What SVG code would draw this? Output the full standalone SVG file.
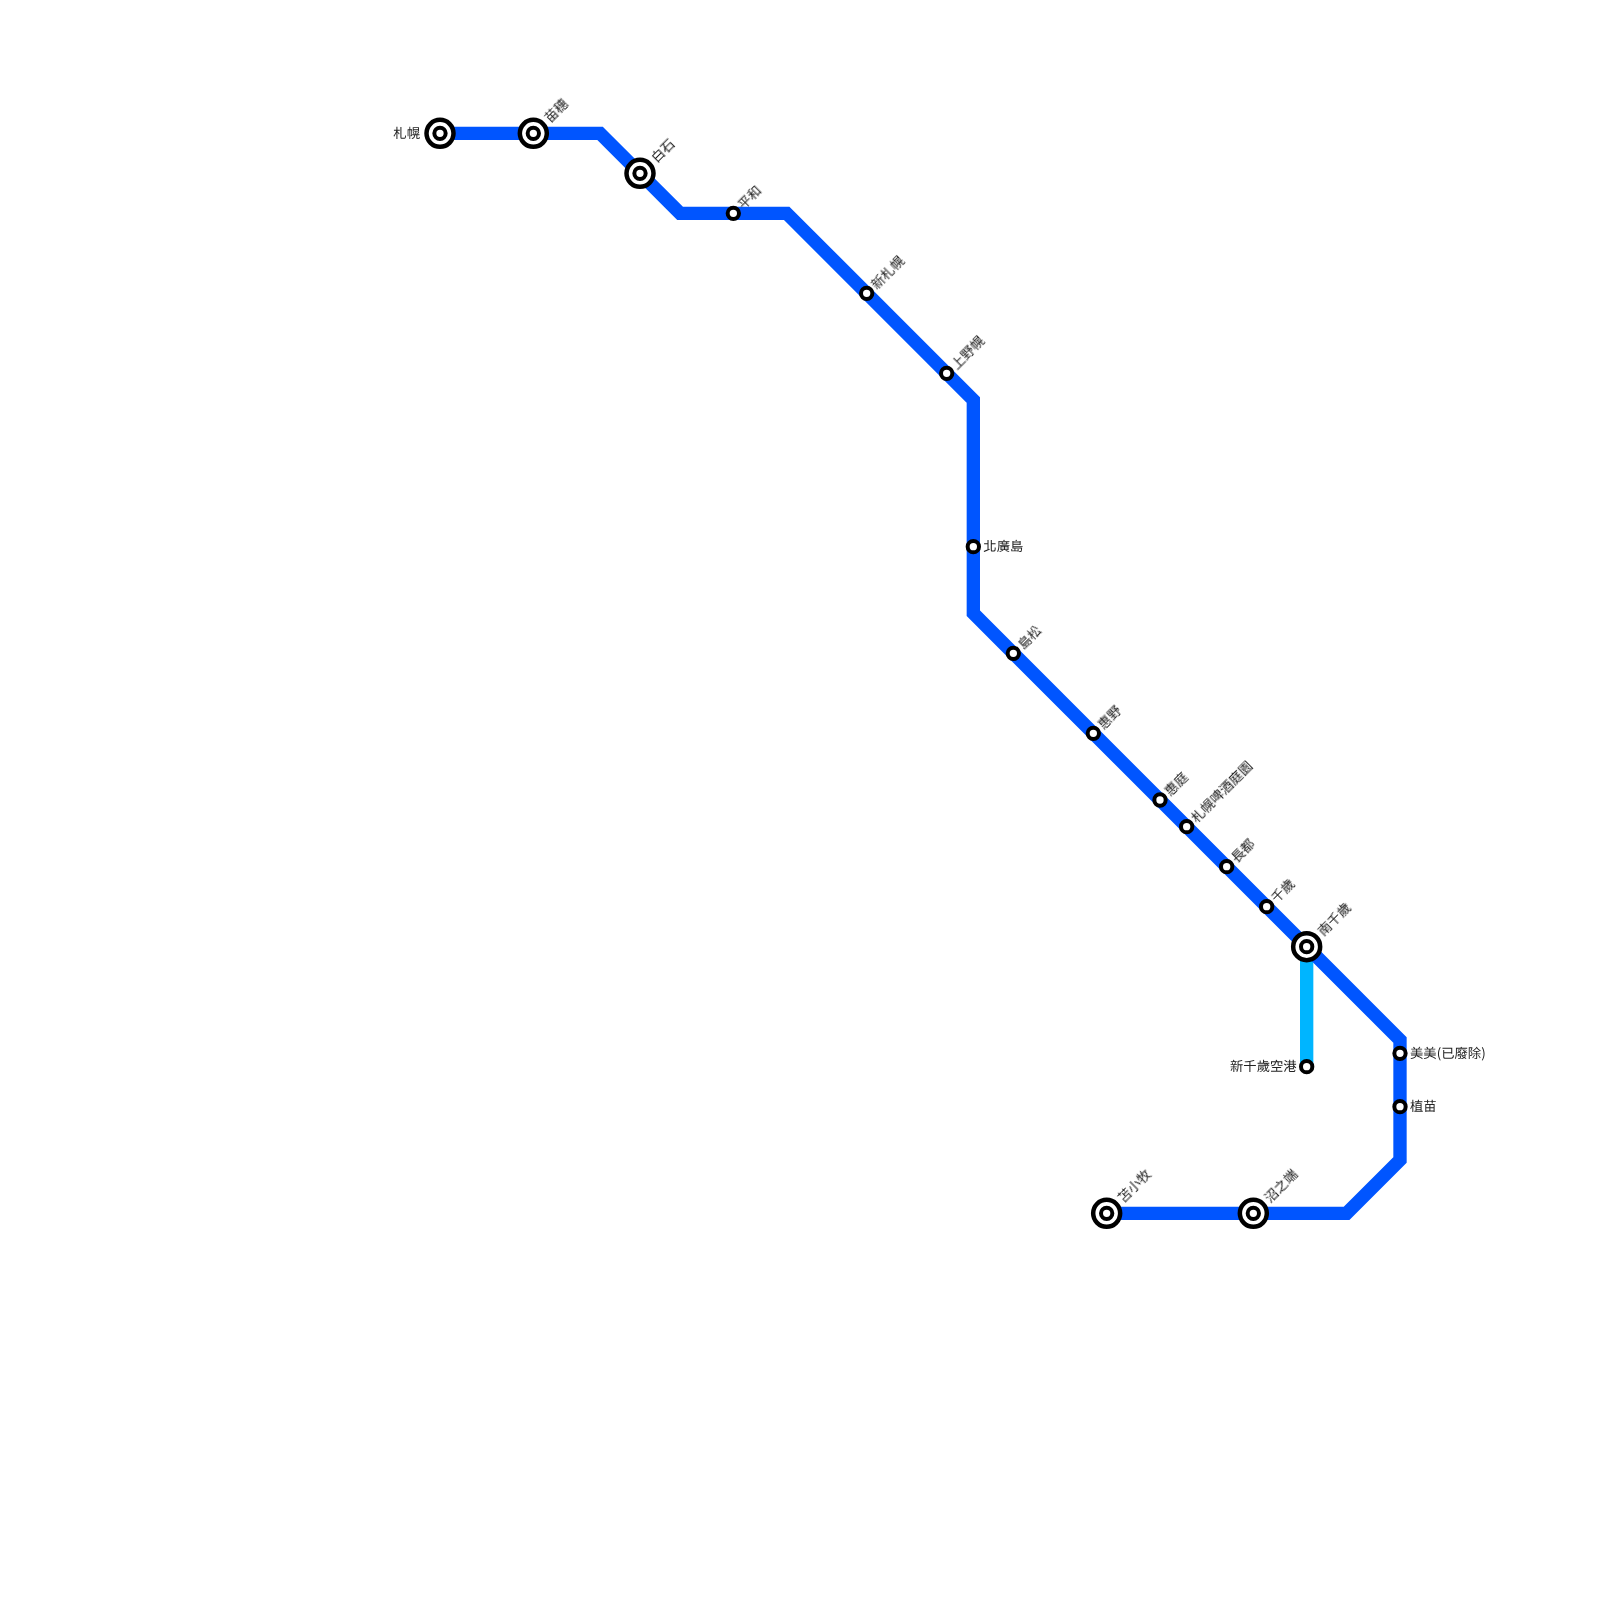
<svg xmlns="http://www.w3.org/2000/svg" width="1600" height="1600" viewBox="0 0 1600 1600">
<style>
.l{fill:none;stroke-width:13.33;stroke-linejoin:miter}
.o{fill:#fff;stroke:#000;stroke-width:4}
.b{fill:#fff;stroke:#000;stroke-width:4.5}
text{font-family:"Noto Sans CJK TC","Noto Sans CJK SC","Noto Sans",sans-serif;font-size:13.33px;fill:#222;dominant-baseline:middle;text-rendering:geometricPrecision;will-change:opacity}
.e{text-anchor:end}
</style>
<g id="connectors">
<path class="l" stroke="#00b5ff" d="M1306.67 946.67V1066.67"/>
<path class="l" stroke="#0055ff" d="M440 133.33H600L680 213.33H786.67L973.33 400V613.33L1400 1040V1160L1346.67 1213.33H1106.67"/>
</g>
<g id="s-sapporo"><circle class="b" cx="440" cy="133.33" r="13.5"/><circle class="o" cx="440" cy="133.33" r="5.67"/><text class="e" x="420" y="134">札幌</text></g>
<g id="s-naeho"><circle class="b" cx="533.33" cy="133.33" r="13.5"/><circle class="o" cx="533.33" cy="133.33" r="5.67"/><text transform="translate(547.4 120.7) rotate(-45)">苗穗</text></g>
<g id="s-shiroishi"><circle class="b" cx="640" cy="173.33" r="13.5"/><circle class="o" cx="640" cy="173.33" r="5.67"/><text transform="translate(654 160.7) rotate(-45)">白石</text></g>
<g id="s-heiwa"><circle class="o" cx="733.33" cy="213.33" r="5.67"/><text transform="translate(740.7 207.4) rotate(-45)">平和</text></g>
<g id="s-shinsapporo"><circle class="o" cx="866.67" cy="293.33" r="5.67"/><text transform="translate(874 287.4) rotate(-45)">新札幌</text></g>
<g id="s-kaminopporo"><circle class="o" cx="946.67" cy="373.33" r="5.67"/><text transform="translate(954 367.4) rotate(-45)">上野幌</text></g>
<g id="s-kitahiroshima"><circle class="o" cx="973.33" cy="546.67" r="5.67"/><text x="983.33" y="547.4">北廣島</text></g>
<g id="s-shimamatsu"><circle class="o" cx="1013.33" cy="653.33" r="5.67"/><text transform="translate(1020.7 647.4) rotate(-45)">島松</text></g>
<g id="s-eniwa-kita"><circle class="o" cx="1093.33" cy="733.33" r="5.67"/><text transform="translate(1100.7 727.4) rotate(-45)">惠野</text></g>
<g id="s-eniwa"><circle class="o" cx="1160" cy="800" r="5.67"/><text transform="translate(1167.4 794) rotate(-45)">惠庭</text></g>
<g id="s-beerteien"><circle class="o" cx="1186.67" cy="826.67" r="5.67"/><text transform="translate(1194 820.7) rotate(-45)">札幌啤酒庭園</text></g>
<g id="s-osatsu"><circle class="o" cx="1226.67" cy="866.67" r="5.67"/><text transform="translate(1234 860.7) rotate(-45)">長都</text></g>
<g id="s-chitose"><circle class="o" cx="1266.67" cy="906.67" r="5.67"/><text transform="translate(1274 900.7) rotate(-45)">千歲</text></g>
<g id="s-minamichitose"><circle class="b" cx="1306.67" cy="946.67" r="13.5"/><circle class="o" cx="1306.67" cy="946.67" r="5.67"/><text transform="translate(1320.7 934) rotate(-45)">南千歲</text></g>
<g id="s-newchitose"><circle class="o" cx="1306.67" cy="1066.67" r="5.67"/><text class="e" x="1296.67" y="1067.4">新千歲空港</text></g>
<g id="s-bibi"><circle class="o" cx="1400" cy="1053.33" r="5.67"/><text x="1410" y="1054">美美(已廢除)</text></g>
<g id="s-uenae"><circle class="o" cx="1400" cy="1106.67" r="5.67"/><text x="1410" y="1107.4">植苗</text></g>
<g id="s-numanohata"><circle class="b" cx="1253.33" cy="1213.33" r="13.5"/><circle class="o" cx="1253.33" cy="1213.33" r="5.67"/><text transform="translate(1267.4 1200.7) rotate(-45)">沼之端</text></g>
<g id="s-tomakomai"><circle class="b" cx="1106.67" cy="1213.33" r="13.5"/><circle class="o" cx="1106.67" cy="1213.33" r="5.67"/><text transform="translate(1120.7 1200.7) rotate(-45)">苫小牧</text></g>
</svg>
